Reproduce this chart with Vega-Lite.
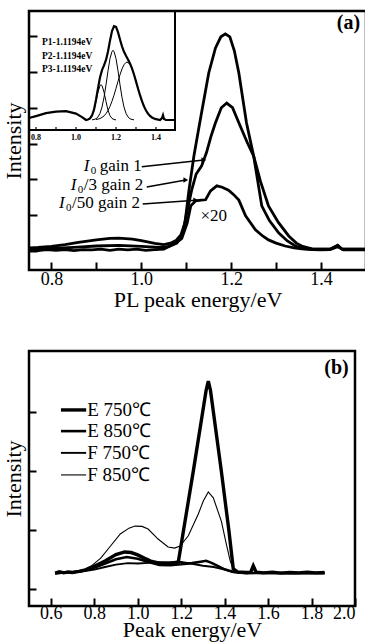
{
"$schema": "https://vega.github.io/schema/vega-lite/v6.json",
"padding": {"left": 0, "top": 8, "right": 0, "bottom": 0},
"spacing": 37,
"config": {
 "font": "Liberation Serif",
 "view": {"stroke": "black", "strokeWidth": 2.5},
 "axis": {"domain": false, "grid": false, "tickColor": "black", "tickWidth": 2, "labelColor": "black", "labelFontSize": 18, "labelFont": "Liberation Serif", "titleFont": "Liberation Serif", "titleFontSize": 22, "titleFontWeight": "normal", "titleColor": "black"},
 "text": {"color": "black", "font": "Liberation Serif"}
},
"datasets": {
 "a_main": [
  {"s":"A","E":0.752,"I":0.09},{"s":"A","E":0.77,"I":0.10},{"s":"A","E":0.80,"I":0.13},{"s":"A","E":0.83,"I":0.18},{"s":"A","E":0.86,"I":0.24},{"s":"A","E":0.90,"I":0.31},{"s":"A","E":0.93,"I":0.35},{"s":"A","E":0.95,"I":0.36},{"s":"A","E":0.98,"I":0.33},{"s":"A","E":1.00,"I":0.29},{"s":"A","E":1.03,"I":0.21},{"s":"A","E":1.05,"I":0.18},{"s":"A","E":1.065,"I":0.22},{"s":"A","E":1.078,"I":0.30},{"s":"A","E":1.088,"I":0.45},{"s":"A","E":1.097,"I":0.78},{"s":"A","E":1.106,"I":1.7},{"s":"A","E":1.117,"I":2.65},{"s":"A","E":1.13,"I":3.58},{"s":"A","E":1.15,"I":4.97},{"s":"A","E":1.165,"I":5.67},{"s":"A","E":1.177,"I":5.98},{"s":"A","E":1.187,"I":6.06},{"s":"A","E":1.197,"I":5.98},{"s":"A","E":1.207,"I":5.59},{"s":"A","E":1.217,"I":4.97},{"s":"A","E":1.234,"I":3.58},{"s":"A","E":1.25,"I":2.65},{"s":"A","E":1.268,"I":1.26},{"s":"A","E":1.285,"I":0.85},{"s":"A","E":1.306,"I":0.50},{"s":"A","E":1.325,"I":0.28},{"s":"A","E":1.343,"I":0.14},{"s":"A","E":1.36,"I":0.07},{"s":"A","E":1.38,"I":0.05},{"s":"A","E":1.42,"I":0.05},{"s":"A","E":1.437,"I":0.16},{"s":"A","E":1.447,"I":0.05},{"s":"A","E":1.5,"I":0.05},
  {"s":"B","E":0.752,"I":0.05},{"s":"B","E":0.80,"I":0.07},{"s":"B","E":0.85,"I":0.10},{"s":"B","E":0.90,"I":0.14},{"s":"B","E":0.95,"I":0.16},{"s":"B","E":1.00,"I":0.13},{"s":"B","E":1.04,"I":0.10},{"s":"B","E":1.06,"I":0.12},{"s":"B","E":1.079,"I":0.22},{"s":"B","E":1.092,"I":0.50},{"s":"B","E":1.101,"I":1.06},{"s":"B","E":1.112,"I":1.70},{"s":"B","E":1.122,"I":2.15},{"s":"B","E":1.134,"I":2.37},{"s":"B","E":1.145,"I":2.75},{"s":"B","E":1.155,"I":3.2},{"s":"B","E":1.165,"I":3.58},{"s":"B","E":1.178,"I":4.0},{"s":"B","E":1.19,"I":4.13},{"s":"B","E":1.203,"I":4.0},{"s":"B","E":1.217,"I":3.58},{"s":"B","E":1.235,"I":3.05},{"s":"B","E":1.25,"I":2.65},{"s":"B","E":1.265,"I":1.95},{"s":"B","E":1.283,"I":1.26},{"s":"B","E":1.305,"I":0.80},{"s":"B","E":1.328,"I":0.42},{"s":"B","E":1.345,"I":0.22},{"s":"B","E":1.357,"I":0.14},{"s":"B","E":1.38,"I":0.06},{"s":"B","E":1.42,"I":0.05},{"s":"B","E":1.437,"I":0.15},{"s":"B","E":1.447,"I":0.05},{"s":"B","E":1.5,"I":0.05},
  {"s":"C","E":0.752,"I":0.03},{"s":"C","E":0.77,"I":0.01},{"s":"C","E":0.79,"I":0.04},{"s":"C","E":0.81,"I":0.02},{"s":"C","E":0.83,"I":0.04},{"s":"C","E":0.85,"I":0.01},{"s":"C","E":0.87,"I":0.04},{"s":"C","E":0.89,"I":0.03},{"s":"C","E":0.91,"I":0.05},{"s":"C","E":0.93,"I":0.02},{"s":"C","E":0.95,"I":0.05},{"s":"C","E":0.97,"I":0.03},{"s":"C","E":0.99,"I":0.05},{"s":"C","E":1.01,"I":0.02},{"s":"C","E":1.03,"I":0.04},{"s":"C","E":1.05,"I":0.05},{"s":"C","E":1.068,"I":0.17},{"s":"C","E":1.08,"I":0.25},{"s":"C","E":1.09,"I":0.35},{"s":"C","E":1.102,"I":0.78},{"s":"C","E":1.11,"I":1.26},{"s":"C","E":1.121,"I":1.40},{"s":"C","E":1.133,"I":1.42},{"s":"C","E":1.143,"I":1.43},{"s":"C","E":1.154,"I":1.68},{"s":"C","E":1.168,"I":1.82},{"s":"C","E":1.18,"I":1.78},{"s":"C","E":1.194,"I":1.70},{"s":"C","E":1.205,"I":1.58},{"s":"C","E":1.217,"I":1.42},{"s":"C","E":1.232,"I":0.98},{"s":"C","E":1.254,"I":0.59},{"s":"C","E":1.27,"I":0.42},{"s":"C","E":1.283,"I":0.31},{"s":"C","E":1.30,"I":0.22},{"s":"C","E":1.32,"I":0.14},{"s":"C","E":1.34,"I":0.09},{"s":"C","E":1.357,"I":0.06},{"s":"C","E":1.38,"I":0.04},{"s":"C","E":1.40,"I":0.03},{"s":"C","E":1.42,"I":0.04},{"s":"C","E":1.437,"I":0.12},{"s":"C","E":1.45,"I":0.03},{"s":"C","E":1.47,"I":0.04},{"s":"C","E":1.5,"I":0.03}
 ],
 "a_labels": [
  {"rest":"gain 1","E":0.872,"I":2.37,"k":1},
  {"rest":"/3 gain 2","E":0.843,"I":1.84,"k":2},
  {"rest":"/50 gain 2","E":0.817,"I":1.34,"k":3}
 ],
 "a_arrows": [
  {"E":1.001,"I":2.35,"E2":1.139,"I2":2.54},
  {"E":1.012,"I":1.79,"E2":1.099,"I2":1.98},
  {"E":1.003,"I":1.31,"E2":1.121,"I2":1.42}
 ],
 "a_notes": [{"t":"×20","E":1.161,"I":0.98}],
 "a_panel": [{"t":"(a)","E":1.461,"I":6.36}],
 "inset_frame": [{"E":0.765,"E2":1.495,"I":-0.102,"I2":1.112}],
 "inset_sum": [
  {"E":0.765,"I":0.02},{"E":0.80,"I":0.04},{"E":0.85,"I":0.07},{"E":0.90,"I":0.085},{"E":0.95,"I":0.09},{"E":1.00,"I":0.065},{"E":1.03,"I":0.03},{"E":1.05,"I":0.0},{"E":1.06,"I":0.005},{"E":1.07,"I":0.016},{"E":1.08,"I":0.046},{"E":1.09,"I":0.105},{"E":1.10,"I":0.207},{"E":1.11,"I":0.325},{"E":1.12,"I":0.434},{"E":1.13,"I":0.509},{"E":1.14,"I":0.558},{"E":1.15,"I":0.613},{"E":1.16,"I":0.699},{"E":1.17,"I":0.810},{"E":1.18,"I":0.908},{"E":1.19,"I":0.958},{"E":1.20,"I":0.950},{"E":1.21,"I":0.896},{"E":1.22,"I":0.821},{"E":1.23,"I":0.752},{"E":1.24,"I":0.696},{"E":1.25,"I":0.655},{"E":1.26,"I":0.618},{"E":1.27,"I":0.577},{"E":1.28,"I":0.526},{"E":1.29,"I":0.464},{"E":1.30,"I":0.394},{"E":1.31,"I":0.322},{"E":1.32,"I":0.253},{"E":1.33,"I":0.192},{"E":1.34,"I":0.139},{"E":1.35,"I":0.097},{"E":1.36,"I":0.065},{"E":1.37,"I":0.042},{"E":1.38,"I":0.026},{"E":1.39,"I":0.015},{"E":1.40,"I":0.009},{"E":1.42,"I":0.0},{"E":1.43,"I":0.02},{"E":1.435,"I":0.05},{"E":1.44,"I":0.01},{"E":1.45,"I":0.0},{"E":1.495,"I":0.0}
 ],
 "inset_peaks": [
  {"p":"P1","E":1.06,"I":0.005},{"p":"P1","E":1.07,"I":0.016},{"p":"P1","E":1.08,"I":0.044},{"p":"P1","E":1.09,"I":0.10},{"p":"P1","E":1.10,"I":0.189},{"p":"P1","E":1.11,"I":0.285},{"p":"P1","E":1.12,"I":0.351},{"p":"P1","E":1.125,"I":0.36},{"p":"P1","E":1.13,"I":0.351},{"p":"P1","E":1.14,"I":0.285},{"p":"P1","E":1.15,"I":0.189},{"p":"P1","E":1.16,"I":0.10},{"p":"P1","E":1.17,"I":0.044},{"p":"P1","E":1.18,"I":0.016},{"p":"P1","E":1.19,"I":0.005},{"p":"P1","E":1.20,"I":0.001},
  {"p":"P2","E":1.08,"I":0.002},{"p":"P2","E":1.09,"I":0.005},{"p":"P2","E":1.10,"I":0.013},{"p":"P2","E":1.11,"I":0.031},{"p":"P2","E":1.12,"I":0.068},{"p":"P2","E":1.13,"I":0.132},{"p":"P2","E":1.14,"I":0.231},{"p":"P2","E":1.15,"I":0.359},{"p":"P2","E":1.16,"I":0.502},{"p":"P2","E":1.17,"I":0.627},{"p":"P2","E":1.18,"I":0.700},{"p":"P2","E":1.185,"I":0.71},{"p":"P2","E":1.19,"I":0.700},{"p":"P2","E":1.20,"I":0.627},{"p":"P2","E":1.21,"I":0.502},{"p":"P2","E":1.22,"I":0.359},{"p":"P2","E":1.23,"I":0.231},{"p":"P2","E":1.24,"I":0.132},{"p":"P2","E":1.25,"I":0.068},{"p":"P2","E":1.26,"I":0.031},{"p":"P2","E":1.27,"I":0.013},{"p":"P2","E":1.28,"I":0.005},{"p":"P2","E":1.29,"I":0.002},
  {"p":"P3","E":1.10,"I":0.005},{"p":"P3","E":1.11,"I":0.009},{"p":"P3","E":1.12,"I":0.015},{"p":"P3","E":1.13,"I":0.026},{"p":"P3","E":1.14,"I":0.042},{"p":"P3","E":1.15,"I":0.065},{"p":"P3","E":1.16,"I":0.097},{"p":"P3","E":1.17,"I":0.139},{"p":"P3","E":1.18,"I":0.192},{"p":"P3","E":1.19,"I":0.253},{"p":"P3","E":1.20,"I":0.322},{"p":"P3","E":1.21,"I":0.394},{"p":"P3","E":1.22,"I":0.462},{"p":"P3","E":1.23,"I":0.521},{"p":"P3","E":1.24,"I":0.564},{"p":"P3","E":1.25,"I":0.587},{"p":"P3","E":1.255,"I":0.59},{"p":"P3","E":1.26,"I":0.587},{"p":"P3","E":1.27,"I":0.564},{"p":"P3","E":1.28,"I":0.521},{"p":"P3","E":1.29,"I":0.462},{"p":"P3","E":1.30,"I":0.394},{"p":"P3","E":1.31,"I":0.322},{"p":"P3","E":1.32,"I":0.253},{"p":"P3","E":1.33,"I":0.192},{"p":"P3","E":1.34,"I":0.139},{"p":"P3","E":1.35,"I":0.097},{"p":"P3","E":1.36,"I":0.065},{"p":"P3","E":1.37,"I":0.042},{"p":"P3","E":1.38,"I":0.026},{"p":"P3","E":1.39,"I":0.015},{"p":"P3","E":1.40,"I":0.009},{"p":"P3","E":1.41,"I":0.005}
 ],
 "inset_text": [
  {"t":"P1-1.1194eV","E":0.83,"I":0.796},
  {"t":"P2-1.1194eV","E":0.83,"I":0.653},
  {"t":"P3-1.1194eV","E":0.83,"I":0.52}
 ],
 "inset_ticks": [{"E":0.8,"I":-0.102,"I2":-0.072},{"E":0.9,"I":-0.102,"I2":-0.072},{"E":1.0,"I":-0.102,"I2":-0.072},{"E":1.1,"I":-0.102,"I2":-0.072},{"E":1.2,"I":-0.102,"I2":-0.072},{"E":1.3,"I":-0.102,"I2":-0.072},{"E":1.4,"I":-0.102,"I2":-0.072}],
 "inset_ticklabels": [{"E":0.8,"t":"0.8","I":-0.184},{"E":1.0,"t":"1.0","I":-0.184},{"E":1.2,"t":"1.2","I":-0.184},{"E":1.4,"t":"1.4","I":-0.184}],
 "b_main": [
  {"s":"E750","E":0.62,"I":0.03},{"s":"E750","E":0.64,"I":0.08},{"s":"E750","E":0.66,"I":0.04},{"s":"E750","E":0.68,"I":0.07},{"s":"E750","E":0.70,"I":0.05},{"s":"E750","E":0.73,"I":0.09},{"s":"E750","E":0.76,"I":0.14},{"s":"E750","E":0.80,"I":0.26},{"s":"E750","E":0.85,"I":0.44},{"s":"E750","E":0.90,"I":0.66},{"s":"E750","E":0.94,"I":0.75},{"s":"E750","E":0.97,"I":0.73},{"s":"E750","E":1.00,"I":0.65},{"s":"E750","E":1.03,"I":0.54},{"s":"E750","E":1.06,"I":0.44},{"s":"E750","E":1.10,"I":0.37},{"s":"E750","E":1.14,"I":0.34},{"s":"E750","E":1.187,"I":0.41},{"s":"E750","E":1.256,"I":3.5},{"s":"E750","E":1.315,"I":6.25},{"s":"E750","E":1.325,"I":6.56},{"s":"E750","E":1.335,"I":6.25},{"s":"E750","E":1.385,"I":3.5},{"s":"E750","E":1.42,"I":1.46},{"s":"E750","E":1.44,"I":0.17},{"s":"E750","E":1.46,"I":0.07},{"s":"E750","E":1.50,"I":0.05},{"s":"E750","E":1.52,"I":0.06},{"s":"E750","E":1.532,"I":0.28},{"s":"E750","E":1.545,"I":0.06},{"s":"E750","E":1.58,"I":0.04},{"s":"E750","E":1.62,"I":0.06},{"s":"E750","E":1.66,"I":0.03},{"s":"E750","E":1.70,"I":0.05},{"s":"E750","E":1.74,"I":0.04},{"s":"E750","E":1.78,"I":0.06},{"s":"E750","E":1.82,"I":0.04},{"s":"E750","E":1.86,"I":0.05},
  {"s":"E850","E":0.62,"I":0.02},{"s":"E850","E":0.66,"I":0.05},{"s":"E850","E":0.70,"I":0.06},{"s":"E850","E":0.75,"I":0.11},{"s":"E850","E":0.80,"I":0.21},{"s":"E850","E":0.85,"I":0.36},{"s":"E850","E":0.90,"I":0.50},{"s":"E850","E":0.95,"I":0.58},{"s":"E850","E":1.00,"I":0.52},{"s":"E850","E":1.05,"I":0.41},{"s":"E850","E":1.10,"I":0.31},{"s":"E850","E":1.15,"I":0.30},{"s":"E850","E":1.20,"I":0.33},{"s":"E850","E":1.25,"I":0.37},{"s":"E850","E":1.29,"I":0.42},{"s":"E850","E":1.315,"I":0.45},{"s":"E850","E":1.34,"I":0.38},{"s":"E850","E":1.37,"I":0.27},{"s":"E850","E":1.40,"I":0.16},{"s":"E850","E":1.44,"I":0.07},{"s":"E850","E":1.50,"I":0.03},{"s":"E850","E":1.60,"I":0.04},{"s":"E850","E":1.70,"I":0.03},{"s":"E850","E":1.86,"I":0.03},
  {"s":"F750","E":0.62,"I":0.02},{"s":"F750","E":0.70,"I":0.05},{"s":"F750","E":0.75,"I":0.09},{"s":"F750","E":0.80,"I":0.15},{"s":"F750","E":0.85,"I":0.24},{"s":"F750","E":0.90,"I":0.32},{"s":"F750","E":0.955,"I":0.37},{"s":"F750","E":1.00,"I":0.36},{"s":"F750","E":1.05,"I":0.38},{"s":"F750","E":1.10,"I":0.40},{"s":"F750","E":1.15,"I":0.40},{"s":"F750","E":1.20,"I":0.41},{"s":"F750","E":1.25,"I":0.35},{"s":"F750","E":1.30,"I":0.28},{"s":"F750","E":1.35,"I":0.24},{"s":"F750","E":1.40,"I":0.15},{"s":"F750","E":1.44,"I":0.07},{"s":"F750","E":1.50,"I":0.03},{"s":"F750","E":1.86,"I":0.03},
  {"s":"F850","E":0.62,"I":0.03},{"s":"F850","E":0.70,"I":0.06},{"s":"F850","E":0.75,"I":0.14},{"s":"F850","E":0.786,"I":0.27},{"s":"F850","E":0.83,"I":0.54},{"s":"F850","E":0.864,"I":0.85},{"s":"F850","E":0.92,"I":1.36},{"s":"F850","E":0.96,"I":1.56},{"s":"F850","E":0.988,"I":1.63},{"s":"F850","E":1.02,"I":1.62},{"s":"F850","E":1.048,"I":1.53},{"s":"F850","E":1.094,"I":1.19},{"s":"F850","E":1.14,"I":0.92},{"s":"F850","E":1.17,"I":0.88},{"s":"F850","E":1.195,"I":0.95},{"s":"F850","E":1.233,"I":1.3},{"s":"F850","E":1.279,"I":2.04},{"s":"F850","E":1.302,"I":2.48},{"s":"F850","E":1.325,"I":2.79},{"s":"F850","E":1.348,"I":2.59},{"s":"F850","E":1.385,"I":1.80},{"s":"F850","E":1.408,"I":1.02},{"s":"F850","E":1.426,"I":0.44},{"s":"F850","E":1.44,"I":0.17},{"s":"F850","E":1.46,"I":0.07},{"s":"F850","E":1.50,"I":0.03},{"s":"F850","E":1.86,"I":0.03}
 ],
 "b_legend": [
  {"s":"E750","label":"E 750℃","E":0.647,"E2":0.763,"I":5.58},
  {"s":"E850","label":"E 850℃","E":0.647,"E2":0.763,"I":4.86},
  {"s":"F750","label":"F 750℃","E":0.647,"E2":0.763,"I":4.12},
  {"s":"F850","label":"F 850℃","E":0.647,"E2":0.763,"I":3.37}
 ],
 "b_panel": [{"t":"(b)","E":1.915,"I":7.0}]
},
"vconcat": [
 {
  "width": 337, "height": 259,
  "resolve": {"scale": {"x": "independent", "y": "independent"}},
  "layer": [
   {
    "layer": [
     {
      "data": {"name": "a_main"},
      "mark": {"type": "line", "color": "black", "strokeWidth": 2.8},
      "encoding": {
       "x": {"field": "E", "type": "quantitative", "scale": {"domain": [0.75, 1.5], "nice": false, "zero": false},
             "axis": {"values": [0.8, 0.9, 1.0, 1.1, 1.2, 1.3, 1.4], "labelExpr": "round(datum.value*10)%2==0 ? format(datum.value,'.1f') : ''", "tickSize": -8, "labelPadding": 8, "title": "PL peak energy/eV", "titlePadding": 1}},
       "y": {"field": "I", "type": "quantitative", "scale": {"domain": [-0.53, 6.70], "nice": false, "zero": false},
             "axis": {"values": [0, 1, 2, 3, 4, 5, 6], "labels": false, "tickSize": -8, "title": "Intensity", "titlePadding": 3}},
       "detail": {"field": "s"}
      }
     },
     {
      "data": {"name": "a_labels"},
      "mark": {"type": "text", "align": "left", "baseline": "middle", "fontSize": 17, "fontStyle": "italic", "text": "I"},
      "encoding": {"x": {"field": "E", "type": "quantitative"}, "y": {"field": "I", "type": "quantitative"}}
     },
     {
      "data": {"name": "a_labels"},
      "mark": {"type": "text", "align": "left", "baseline": "middle", "fontSize": 11, "dx": 7, "dy": 5, "text": "0"},
      "encoding": {"x": {"field": "E", "type": "quantitative"}, "y": {"field": "I", "type": "quantitative"}}
     },
     {
      "data": {"name": "a_labels"},
      "transform": [{"filter": "datum.k == 1"}],
      "mark": {"type": "text", "align": "left", "baseline": "middle", "fontSize": 17, "dx": 16},
      "encoding": {"x": {"field": "E", "type": "quantitative"}, "y": {"field": "I", "type": "quantitative"}, "text": {"field": "rest"}}
     },
     {
      "data": {"name": "a_labels"},
      "transform": [{"filter": "datum.k != 1"}],
      "mark": {"type": "text", "align": "left", "baseline": "middle", "fontSize": 17, "dx": 13},
      "encoding": {"x": {"field": "E", "type": "quantitative"}, "y": {"field": "I", "type": "quantitative"}, "text": {"field": "rest"}}
     },
     {
      "data": {"name": "a_arrows"},
      "mark": {"type": "rule", "color": "black", "strokeWidth": 1.5},
      "encoding": {"x": {"field": "E", "type": "quantitative"}, "y": {"field": "I", "type": "quantitative"}, "x2": {"field": "E2"}, "y2": {"field": "I2"}}
     },
     {
      "data": {"name": "a_arrows"},
      "mark": {"type": "point", "shape": "triangle-right", "filled": true, "color": "black", "size": 30, "opacity": 1},
      "encoding": {"x": {"field": "E2", "type": "quantitative"}, "y": {"field": "I2", "type": "quantitative"}}
     },
     {
      "data": {"name": "a_notes"},
      "mark": {"type": "text", "align": "center", "baseline": "middle", "fontSize": 17},
      "encoding": {"x": {"field": "E", "type": "quantitative"}, "y": {"field": "I", "type": "quantitative"}, "text": {"field": "t"}}
     },
     {
      "data": {"name": "a_panel"},
      "mark": {"type": "text", "align": "center", "baseline": "middle", "fontSize": 20, "fontWeight": "bold"},
      "encoding": {"x": {"field": "E", "type": "quantitative"}, "y": {"field": "I", "type": "quantitative"}, "text": {"field": "t"}}
     }
    ]
   },
   {
    "layer": [
     {
      "data": {"name": "inset_frame"},
      "mark": {"type": "rect", "fill": null, "fillOpacity": 0, "stroke": "black", "strokeWidth": 2},
      "encoding": {
       "x": {"field": "E", "type": "quantitative", "scale": {"domain": [0.765, 1.495], "range": [0, 146], "nice": false, "zero": false}, "axis": null},
       "x2": {"field": "E2"},
       "y": {"field": "I", "type": "quantitative", "scale": {"domain": [-0.102, 1.112], "range": [119, 0], "nice": false, "zero": false}, "axis": null},
       "y2": {"field": "I2"}
      }
     },
     {
      "data": {"name": "inset_peaks"},
      "mark": {"type": "line", "color": "black", "strokeWidth": 1},
      "encoding": {"x": {"field": "E", "type": "quantitative", "axis": null}, "y": {"field": "I", "type": "quantitative", "axis": null}, "detail": {"field": "p"}}
     },
     {
      "data": {"name": "inset_sum"},
      "mark": {"type": "line", "color": "black", "strokeWidth": 2.2},
      "encoding": {"x": {"field": "E", "type": "quantitative", "axis": null}, "y": {"field": "I", "type": "quantitative", "axis": null}}
     },
     {
      "data": {"name": "inset_text"},
      "mark": {"type": "text", "align": "left", "baseline": "middle", "fontSize": 9.5, "fontWeight": "bold"},
      "encoding": {"x": {"field": "E", "type": "quantitative", "axis": null}, "y": {"field": "I", "type": "quantitative", "axis": null}, "text": {"field": "t"}}
     },
     {
      "data": {"name": "inset_ticks"},
      "mark": {"type": "rule", "color": "black", "strokeWidth": 1.2},
      "encoding": {"x": {"field": "E", "type": "quantitative", "axis": null}, "y": {"field": "I", "type": "quantitative", "axis": null}, "y2": {"field": "I2"}}
     },
     {
      "data": {"name": "inset_ticklabels"},
      "mark": {"type": "text", "align": "center", "baseline": "middle", "fontSize": 8, "fontWeight": "bold"},
      "encoding": {"x": {"field": "E", "type": "quantitative", "axis": null}, "y": {"field": "I", "type": "quantitative", "axis": null}, "text": {"field": "t"}}
     }
    ]
   }
  ]
 },
 {
  "width": 326, "height": 255,
  "layer": [
   {
    "data": {"name": "b_main"},
    "mark": {"type": "line", "color": "black"},
    "encoding": {
     "x": {"field": "E", "type": "quantitative", "scale": {"domain": [0.5, 2.0], "nice": false, "zero": false},
           "axis": {"values": [0.6, 0.7, 0.8, 0.9, 1.0, 1.1, 1.2, 1.3, 1.4, 1.5, 1.6, 1.7, 1.8, 1.9, 2.0], "labelExpr": "round(datum.value*10)%2==0 ? format(datum.value,'.1f') : ''", "tickSize": -8, "labelPadding": 6, "title": "Peak energy/eV", "titlePadding": -3}},
     "y": {"field": "I", "type": "quantitative", "scale": {"domain": [-1.088, 7.585], "nice": false, "zero": false},
           "axis": {"values": [-0.5, 0, 0.5, 1, 1.5, 2, 2.5, 3, 3.5, 4, 4.5, 5, 5.5, 6, 6.5, 7], "labels": false, "tickSize": -7, "title": "Intensity", "titlePadding": 3}},
     "detail": {"field": "s"},
     "strokeWidth": {"field": "s", "type": "nominal", "scale": {"type": "ordinal", "domain": ["E750", "E850", "F750", "F850"], "range": [3.4, 2.6, 1.9, 1.1]}, "legend": null}
    }
   },
   {
    "data": {"name": "b_legend"},
    "mark": {"type": "rule", "color": "black"},
    "encoding": {
     "x": {"field": "E", "type": "quantitative"}, "x2": {"field": "E2"},
     "y": {"field": "I", "type": "quantitative"},
     "strokeWidth": {"field": "s", "type": "nominal", "scale": {"type": "ordinal", "domain": ["E750", "E850", "F750", "F850"], "range": [3.4, 2.6, 1.9, 1.1]}, "legend": null}
    }
   },
   {
    "data": {"name": "b_legend"},
    "mark": {"type": "text", "align": "left", "baseline": "middle", "fontSize": 19, "dx": 1},
    "encoding": {"x": {"field": "E2", "type": "quantitative"}, "y": {"field": "I", "type": "quantitative"}, "text": {"field": "label"}}
   },
   {
    "data": {"name": "b_panel"},
    "mark": {"type": "text", "align": "center", "baseline": "middle", "fontSize": 20, "fontWeight": "bold"},
    "encoding": {"x": {"field": "E", "type": "quantitative"}, "y": {"field": "I", "type": "quantitative"}, "text": {"field": "t"}}
   }
  ]
 }
]
}
